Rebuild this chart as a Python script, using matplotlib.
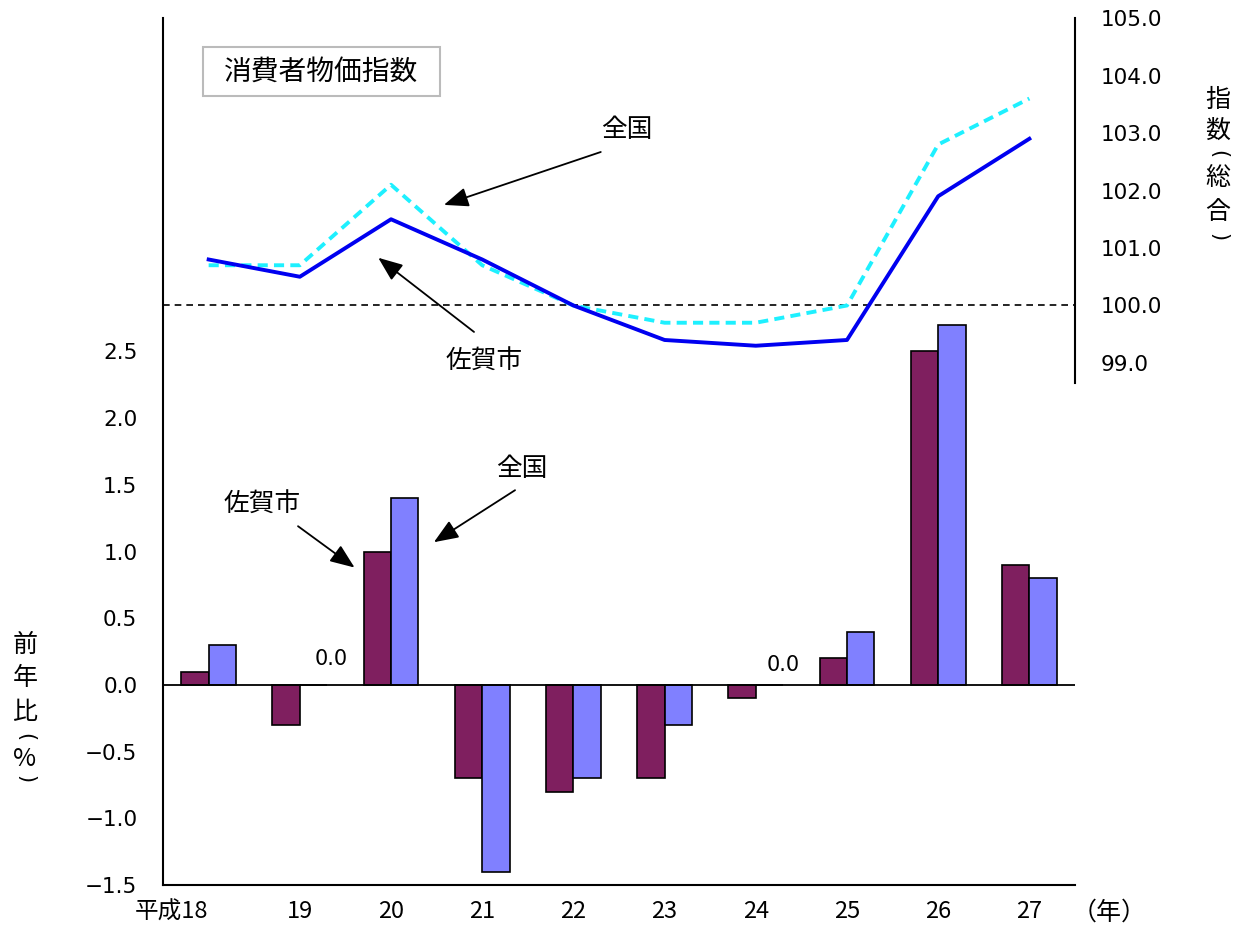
import numpy as np
import matplotlib
matplotlib.use('Agg')
import matplotlib.pyplot as plt
from matplotlib.patches import Rectangle

plt.rcParams['font.family'] = ['Noto Sans CJK JP', 'DejaVu Sans']

years = ['平成18', '19', '20', '21', '22', '23', '24', '25', '26', '27']

# year-over-year change (%)
saga_pct = [0.1, -0.3, 1.0, -0.7, -0.8, -0.7, -0.1, 0.2, 2.5, 0.9]
zenkoku_pct = [0.3, 0.0, 1.4, -1.4, -0.7, -0.3, 0.0, 0.4, 2.7, 0.8]

# index (total)
saga_idx = [100.8, 100.5, 101.5, 100.8, 100.0, 99.4, 99.3, 99.4, 101.9, 102.9]
zenkoku_idx = [100.7, 100.7, 102.1, 100.7, 100.0, 99.7, 99.7, 100.0, 102.8, 103.6]

left_ticks = [-1.5, -1.0, -0.5, 0.0, 0.5, 1.0, 1.5, 2.0, 2.5]
right_ticks = [99.0, 100.0, 101.0, 102.0, 103.0, 104.0, 105.0]

num_font = ['DejaVu Sans']
W, H = 1239, 930

fig = plt.figure(figsize=(12.39, 9.3), dpi=100)
ax = fig.add_axes([0.1316, 0.0484, 0.736, 0.9322])
x = np.arange(len(years))
w = 0.3

ax.bar(x - w/2, saga_pct, w, color='#7F1F5F', edgecolor='black', linewidth=1.2, zorder=2)
ax.bar(x + w/2, zenkoku_pct, w, color='#8080FF', edgecolor='black', linewidth=1.2, zorder=2)
ax.axhline(0, color='black', linewidth=1.3, zorder=3)

ax.set_xlim(-0.5, len(years) - 0.5)
ax.set_ylim(-1.5, 5.0)
ax.set_yticks(left_ticks)
ax.set_yticklabels([f'{v:.1f}'.replace('-', '\u2212') for v in left_ticks], family=num_font, fontsize=15.5)
ax.set_xticks(x)
ax.set_xticklabels(years, fontsize=17)
ax.get_xticklabels()[0].set_horizontalalignment('right')
ax.tick_params(length=0)
ax.tick_params(axis='y', pad=18.5)
ax.tick_params(axis='x', pad=11)
ax.spines['top'].set_visible(False)
ax.spines['right'].set_visible(False)
for s in ['left', 'bottom']:
    ax.spines[s].set_linewidth(1.5)

# zero labels for the flat bars
ax.text(1.34, 0.195, '0.0', ha='center', va='center', fontsize=15, family=num_font)
ax.text(6.30, 0.15, '0.0', ha='center', va='center', fontsize=15, family=num_font)

ax2 = ax.twinx()
ax2.set_ylim(89.92, 105.0)
ax2.plot(x, zenkoku_idx, color='#1EF0FF', linewidth=2.8, linestyle=(0, (2.6, 1.6)), zorder=4)
ax2.plot(x, saga_idx, color='#0000F0', linewidth=2.8, zorder=5)
ax2.axhline(100.0, color='black', linewidth=1.2, linestyle=(0, (4, 3)), zorder=3)
ax2.set_yticks(right_ticks)
ax2.set_yticklabels([f'{v:.1f}' for v in right_ticks], family=num_font, fontsize=15.5)
ax2.tick_params(length=0, pad=18.5)
for s in ['top', 'left', 'bottom']:
    ax2.spines[s].set_visible(False)
ax2.spines['right'].set_bounds(98.65, 105.0)
ax2.spines['right'].set_linewidth(1.5)

# title box
fig.patches.append(Rectangle((203/W, 1 - 96/H), 237/W, 49/H, transform=fig.transFigure,
                             facecolor='white', edgecolor='#BBBBBB', linewidth=1.5, zorder=5))
fig.text(321.5/W, 1 - 72/H, '消費者物価指数', ha='center', va='center', fontsize=20, zorder=6)

arrow = dict(arrowstyle='-|>,head_length=1.5,head_width=0.6', color='black',
             linewidth=1.3, shrinkA=0, shrinkB=0)

# index annotations
ax2.annotate('', xy=(2.58, 101.75), xytext=(4.3, 102.67), arrowprops=arrow)
ax2.text(4.59, 103.05, '全国', ha='center', va='center', fontsize=18.5)
ax2.annotate('', xy=(1.86, 100.83), xytext=(2.91, 99.54), arrowprops=arrow)
ax2.text(3.02, 99.02, '佐賀市', ha='center', va='center', fontsize=18.5)

# bar annotations
ax.annotate('', xy=(1.60, 0.88), xytext=(0.98, 1.19), arrowprops=arrow)
ax.text(0.59, 1.35, '佐賀市', ha='center', va='center', fontsize=18.5)
ax.annotate('', xy=(2.47, 1.07), xytext=(3.36, 1.46), arrowprops=arrow)
ax.text(3.43, 1.62, '全国', ha='center', va='center', fontsize=18.5)

# axis titles (vertical, one character per line; brackets turned for vertical writing)
left_title = ['前', '年', '比', '(', '%', ')']
left_pos = [645, 678, 712, 737, 759, 779]
for ch, py in zip(left_title, left_pos):
    if ch in '()':
        fig.text(25/W, 1 - py/H, ch, ha='center', va='center', fontsize=15,
                 rotation=-90, family=num_font)
    else:
        fig.text(25/W, 1 - py/H, ch, ha='center', va='center', fontsize=18)

right_title = ['指', '数', '(', '総', '合', ')']
right_pos = [100, 131, 154, 178, 212, 237]
for ch, py in zip(right_title, right_pos):
    if ch in '()':
        fig.text(1218/W, 1 - py/H, ch, ha='center', va='center', fontsize=15,
                 rotation=-90, family=num_font)
    else:
        fig.text(1218/W, 1 - py/H, ch, ha='center', va='center', fontsize=18)

fig.text(1109/W, 1 - 913/H, '（年）', ha='center', va='center', fontsize=18)

fig.savefig('out.png', dpi=100)
